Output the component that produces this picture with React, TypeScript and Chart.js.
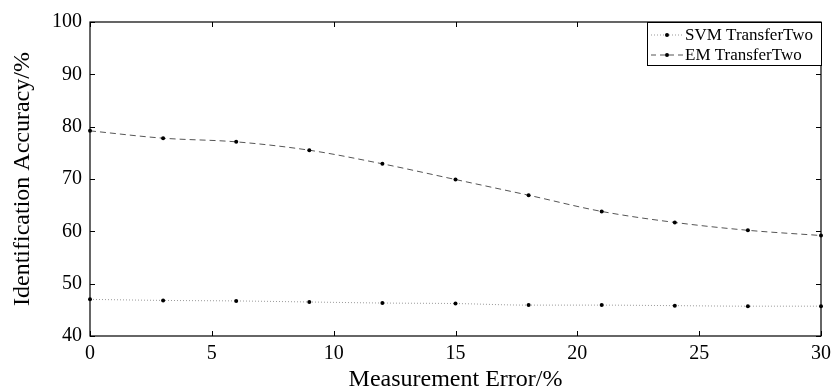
import React, { useEffect, useRef } from "react";
import { Chart, registerables } from "chart.js";

Chart.register(...registerables);

const xValues = [0, 3, 6, 9, 12, 15, 18, 21, 24, 27, 30];
const svmValues = [47.0, 46.8, 46.7, 46.5, 46.3, 46.2, 45.9, 45.9, 45.8, 45.7, 45.7];
const emValues = [79.2, 77.8, 77.1, 75.5, 72.9, 69.9, 66.9, 63.8, 61.7, 60.2, 59.2];
const seriesNames = ["SVM TransferTwo", "EM TransferTwo"];
const xTicks = [0, 5, 10, 15, 20, 25, 30];
const yTicks = [40, 50, 60, 70, 80, 90, 100];
const xTitle = "Measurement Error/%";
const yTitle = "Identification Accuracy/%";

const FONT = "'Liberation Serif', 'DejaVu Serif', serif";

const inwardTicks = {
  id: "inwardTicks",
  afterDraw(chart: any) {
    const { ctx, chartArea: a, scales } = chart;
    const len = 5;
    ctx.save();
    ctx.strokeStyle = "#000";
    ctx.lineWidth = 1;
    ctx.beginPath();
    xTicks.forEach((v) => {
      const px = Math.round(scales.x.getPixelForValue(v)) + 0.5;
      ctx.moveTo(px, a.bottom);
      ctx.lineTo(px, a.bottom - len);
      ctx.moveTo(px, a.top);
      ctx.lineTo(px, a.top + len);
    });
    yTicks.forEach((v) => {
      const py = Math.round(scales.y.getPixelForValue(v)) + 0.5;
      ctx.moveTo(a.left, py);
      ctx.lineTo(a.left + len, py);
      ctx.moveTo(a.right, py);
      ctx.lineTo(a.right - len, py);
    });
    ctx.stroke();
    ctx.lineWidth = 1.2;
    ctx.strokeRect(a.left, a.top, a.right - a.left, a.bottom - a.top);

    // legend box
    const bw = 174;
    const bh = 43;
    const bx = a.right - bw;
    const by = a.top;
    ctx.fillStyle = "#fff";
    ctx.fillRect(bx, by, bw, bh);
    ctx.lineWidth = 1;
    ctx.strokeRect(bx + 0.5, by + 0.5, bw, bh);
    const styles = [
      { dash: [1, 2], color: "#999" },
      { dash: [5, 4], color: "#555" },
    ];
    seriesNames.forEach((name, i) => {
      const y = by + 13 + i * 20;
      ctx.save();
      ctx.setLineDash(styles[i].dash);
      ctx.strokeStyle = styles[i].color;
      ctx.beginPath();
      ctx.moveTo(bx + 4, y);
      ctx.lineTo(bx + 36, y);
      ctx.stroke();
      ctx.restore();
      ctx.fillStyle = "#000";
      ctx.beginPath();
      ctx.arc(bx + 20, y, 2, 0, Math.PI * 2);
      ctx.fill();
      ctx.font = "17px " + FONT;
      ctx.textBaseline = "middle";
      ctx.textAlign = "left";
      ctx.fillText(name, bx + 38, y + 1);
    });
    ctx.restore();
  },
};

export default function App() {
  const ref = useRef<HTMLCanvasElement>(null);
  useEffect(() => {
    document.body.style.margin = "0";
    const chart = new Chart(ref.current!, {
      type: "line",
      data: {
        datasets: [
          {
            label: seriesNames[0],
            data: xValues.map((x, i) => ({ x, y: svmValues[i] })),
            borderColor: "#999",
            borderWidth: 1,
            borderDash: [1, 2],
            pointRadius: 2,
            pointBackgroundColor: "#000",
            pointBorderColor: "#000",
            pointBorderWidth: 0,
            cubicInterpolationMode: "monotone",
          },
          {
            label: seriesNames[1],
            data: xValues.map((x, i) => ({ x, y: emValues[i] })),
            borderColor: "#555",
            borderWidth: 1,
            borderDash: [6, 4],
            pointRadius: 2,
            pointBackgroundColor: "#000",
            pointBorderColor: "#000",
            pointBorderWidth: 0,
            cubicInterpolationMode: "monotone",
          },
        ],
      },
      options: {
        animation: false,
        responsive: false,
        clip: false as any,
        layout: { padding: { top: 22, right: 15, left: 0, bottom: 0 } },
        plugins: { legend: { display: false }, tooltip: { enabled: false } },
        scales: {
          x: {
            type: "linear",
            min: 0,
            max: 30,
            afterFit: (s: any) => {
              s.height = 56;
            },
            afterBuildTicks: (s: any) => {
              s.ticks = xTicks.map((v) => ({ value: v }));
            },
            grid: { display: false, drawTicks: false },
            border: { display: false },
            ticks: { color: "#000", font: { family: FONT, size: 20 }, padding: 6, maxRotation: 0 },
            title: {
              display: true,
              text: xTitle,
              color: "#000",
              font: { family: FONT, size: 24, lineHeight: 1 },
              padding: { top: 0, bottom: 0 },
            },
          },
          y: {
            type: "linear",
            min: 40,
            max: 100,
            afterFit: (s: any) => {
              s.width = 90;
            },
            afterBuildTicks: (s: any) => {
              s.ticks = yTicks.map((v) => ({ value: v }));
            },
            grid: { display: false, drawTicks: false },
            border: { display: false },
            ticks: { color: "#000", font: { family: FONT, size: 20 }, padding: 8 },
            title: {
              display: true,
              text: yTitle,
              color: "#000",
              font: { family: FONT, size: 24, lineHeight: 1.2 },
              padding: { top: 8, bottom: 0 },
            },
          },
        },
      },
      plugins: [inwardTicks],
    });
    return () => chart.destroy();
  }, []);
  return <canvas ref={ref} width={837} height={392} style={{ display: "block" }} />;
}
